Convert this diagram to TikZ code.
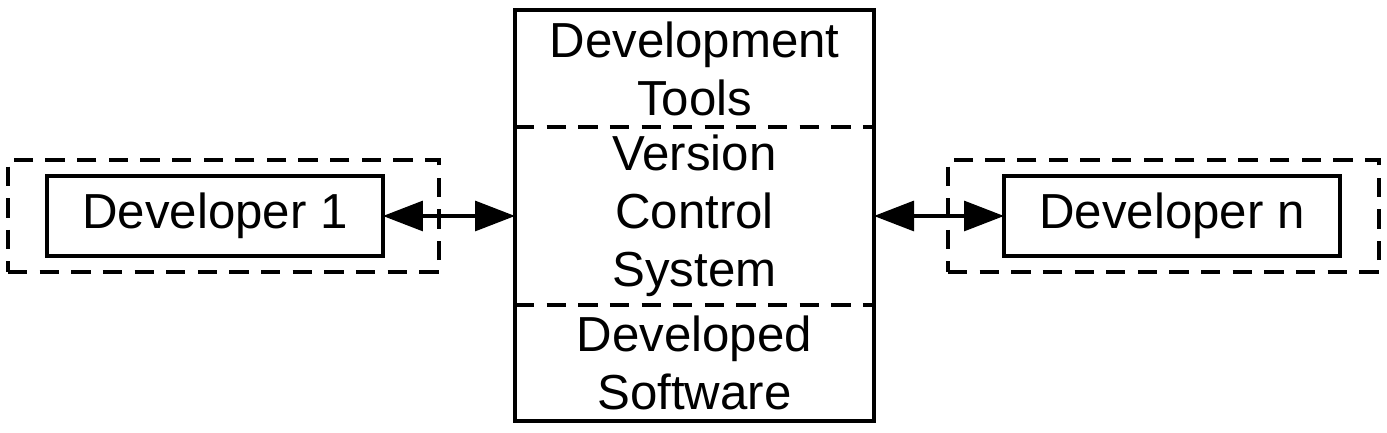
\documentclass[tikz,border=0pt]{standalone}
\usepackage{fontspec}
\setmainfont{Liberation Sans}
\usetikzlibrary{positioning, arrows.meta}
\tikzset{
    box/.style={draw, line width=0.9pt, align=center, inner sep=0pt, outer sep=0pt,
      font=\fontsize{14}{16.5}\selectfont},
    section/.style={box, draw=none, minimum width=3.59cm},
    developer/.style={box, minimum width=3.36cm, minimum height=0.8cm},
    group/.style={draw, line width=1.1pt, dash pattern=on 5.5pt off 3.5pt,
      minimum width=4.31cm, minimum height=1.12cm, inner sep=0pt},
    divider/.style={line width=1.1pt, dash pattern=on 5.5pt off 3.5pt},
    link/.style={line width=0.9pt, {Triangle[length=0.4cm, width=0.3cm]}-{Triangle[length=0.4cm, width=0.3cm]}},
}
\begin{document}
\begin{tikzpicture}
    \useasboundingbox (0,0) rectangle (13.87,4.33);

    \node[section, minimum height=1.17cm] (tools) at (6.945,3.645) {Development\\Tools};
    \node[section, minimum height=1.78cm, below=0cm of tools] (vcs) {Version\\Control\\System};
    \node[section, minimum height=1.16cm, below=0cm of vcs] (software) {Developed\\Software};

    \draw[line width=0.9pt] (tools.north west) rectangle (software.south east);
    \draw[divider] (tools.south west) -- (tools.south east);
    \draw[divider] (vcs.south west) -- (vcs.south east);

    \node[developer, left=1.32cm of vcs] (dev1) {Developer 1};
    \node[developer, right=1.30cm of vcs] (devn) {Developer n};

    \node[group] (team1) at ([xshift=0.085cm]dev1.center) {};
    \node[group] (teamn) at ([xshift=-0.085cm]devn.center) {};

    \draw[link] (dev1) -- (vcs);
    \draw[link] (vcs) -- (devn);
\end{tikzpicture}
\end{document}
